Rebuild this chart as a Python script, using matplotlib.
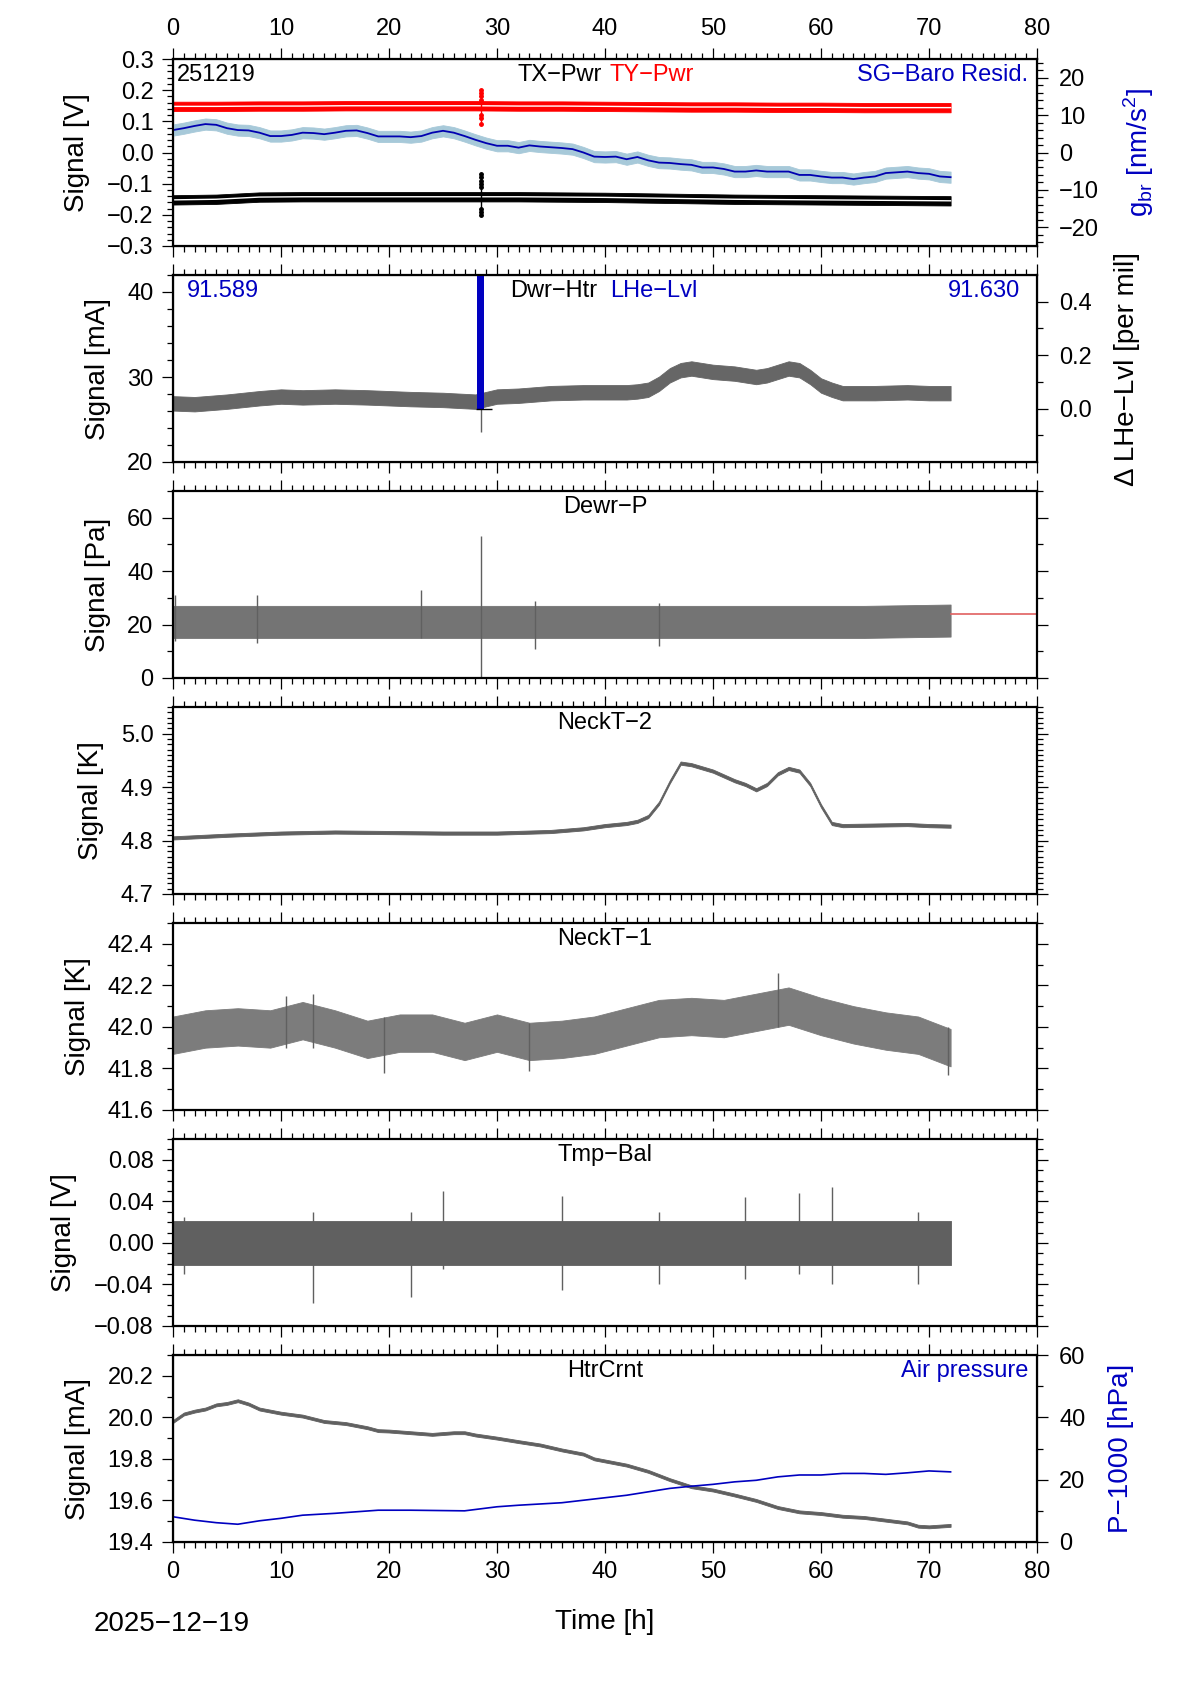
import numpy as np
import matplotlib.pyplot as plt
from matplotlib.ticker import MultipleLocator, FixedLocator, FuncFormatter

plt.rcParams['font.family'] = ['Liberation Sans', 'DejaVu Sans']
plt.rcParams['mathtext.fontset'] = 'custom'
plt.rcParams['mathtext.rm'] = 'Liberation Sans'

GRAY = '#606060'
BLUE = '#0000c0'
RED = '#ff0000'
TICK_FS = 17
LABEL_FS = 20

# ---- panel 1: TX/TY power [V] and SG-Baro residual [nm/s^2]
pwr_t = [0, 4, 8, 12, 16, 20, 24, 28, 32, 36, 40, 44, 48, 52, 56, 60, 64, 68, 72]
ty_pwr = [0.148, 0.148, 0.149, 0.149, 0.150, 0.150, 0.150, 0.150, 0.149, 0.149,
          0.148, 0.147, 0.146, 0.146, 0.145, 0.145, 0.144, 0.144, 0.144]
tx_pwr = [-0.152, -0.150, -0.143, -0.142, -0.142, -0.142, -0.142, -0.142, -0.142, -0.143,
          -0.144, -0.146, -0.148, -0.150, -0.151, -0.152, -0.153, -0.154, -0.155]
pwr_noise = 0.015
ty_spike = [0.20, 0.19, 0.18, 0.17, 0.12, 0.11, 0.09]
tx_spike = [-0.07, -0.08, -0.09, -0.10, -0.11, -0.18, -0.19, -0.20]
spike_time = 28.5

baro_t = list(range(73))
baro = [6.0, 6.5, 7.1, 7.6, 7.4, 6.5, 6.0, 5.9, 5.3, 4.4,
        4.4, 4.7, 5.3, 5.2, 4.9, 5.3, 5.8, 5.9, 5.2, 4.3,
        4.3, 4.3, 4.1, 4.4, 5.3, 5.8, 5.3, 4.4, 3.4, 2.5,
        1.8, 1.8, 1.3, 1.9, 1.6, 1.4, 1.2, 0.9, 0.0, -1.1,
        -1.2, -1.1, -1.8, -1.2, -2.1, -2.7, -2.8, -3.1, -3.3, -4.0,
        -4.0, -4.4, -5.1, -5.1, -4.8, -5.1, -5.1, -5.1, -6.0, -6.0,
        -6.4, -6.7, -6.7, -7.1, -6.7, -6.4, -5.5, -5.3, -5.1, -5.5,
        -5.7, -6.4, -6.6]
baro_noise = 1.5

# ---- panel 2: Dwr-Htr [mA] and LHe level
dwr_t = [0, 2, 5, 8, 10, 12, 15, 18, 20, 22, 25, 28, 30, 32, 35, 38, 40, 42, 43, 44,
         45, 46, 47, 48, 50, 52, 54, 55, 56, 57, 58, 59, 60, 61, 62, 65, 68, 70, 72]
dwr_htr = [26.9, 26.8, 27.1, 27.5, 27.7, 27.6, 27.7, 27.6, 27.5, 27.4,
           27.3, 27.1, 27.7, 27.8, 28.1, 28.2, 28.2, 28.2, 28.3, 28.5,
           29.2, 30.2, 30.8, 31.0, 30.6, 30.4, 30.0, 30.2, 30.6, 31.0,
           30.8, 30.0, 29.0, 28.5, 28.1, 28.1, 28.2, 28.1, 28.1]
dwr_noise = 0.85
dwr_spike_lo, dwr_spike_hi = 23.5, 27.0
lhe_t = [28.5]
lhe_lo = [0.0]
lhe_hi = [0.6]

# ---- panel 3: Dewr-P [Pa]
dewp_t = [0, 8, 16, 24, 32, 40, 48, 56, 64, 72]
dewp = [21.0, 21.0, 21.0, 21.0, 21.0, 21.0, 21.0, 21.0, 21.0, 21.5]
dewp_noise = 6.0
dewp_spk_t = [0.2, 7.8, 23.0, 28.5, 33.5, 45.0]
dewp_spk_lo = [14, 13, 15, 0, 11, 12]
dewp_spk_hi = [31, 31, 33, 53, 29, 28]
dewp_ref_t = [72, 80]
dewp_ref = [24.0, 24.0]

# ---- panel 4: NeckT-2 [K]
nt2_t = [0, 2, 5, 10, 15, 20, 25, 30, 35, 38, 40, 42, 43, 44, 45, 46, 47, 48, 50, 52,
         53, 54, 55, 56, 57, 58, 59, 60, 61, 62, 65, 68, 70, 72]
neckt2 = [4.805, 4.807, 4.810, 4.814, 4.816, 4.815, 4.814, 4.814, 4.817, 4.822,
          4.828, 4.832, 4.836, 4.845, 4.870, 4.910, 4.945, 4.942, 4.930, 4.912,
          4.905, 4.895, 4.905, 4.925, 4.935, 4.930, 4.905, 4.865, 4.832, 4.828,
          4.829, 4.830, 4.828, 4.827]
nt2_noise = 0.003

# ---- panel 5: NeckT-1 [K]
nt1_t = [0, 3, 6, 9, 12, 15, 18, 21, 24, 27, 30, 33, 36, 39, 42, 45, 48, 51, 54, 57,
         60, 63, 66, 69, 72]
neckt1 = [41.96, 41.99, 42.00, 41.99, 42.03, 41.99, 41.94, 41.97, 41.97, 41.93,
          41.97, 41.93, 41.94, 41.96, 42.00, 42.04, 42.05, 42.04, 42.07, 42.10,
          42.05, 42.01, 41.98, 41.96, 41.90]
nt1_noise = 0.09
nt1_spk_t = [10.5, 13.0, 19.5, 33.0, 56.0, 71.8]
nt1_spk_lo = [41.9, 41.9, 41.78, 41.79, 42.0, 41.77]
nt1_spk_hi = [42.15, 42.16, 42.05, 42.02, 42.26, 42.0]

# ---- panel 6: Tmp-Bal [V]
tb_t = [0, 24, 48, 72]
tmpbal = [0.0, 0.0, 0.0, 0.0]
tb_noise = 0.021
tb_spk_t = [1, 13, 22, 25, 36, 45, 53, 58, 61, 69]
tb_spk_lo = [-0.030, -0.058, -0.052, -0.025, -0.045, -0.040, -0.035, -0.030, -0.040, -0.040]
tb_spk_hi = [0.025, 0.030, 0.030, 0.050, 0.045, 0.030, 0.044, 0.048, 0.054, 0.030]

# ---- panel 7: HtrCrnt [mA] and air pressure [hPa]
hc_t = [0, 1, 2, 3, 4, 5, 6, 7, 8, 9, 10, 12, 14, 16, 18, 19, 20, 22, 24, 26, 27,
        28, 30, 32, 34, 36, 38, 39, 40, 42, 44, 46, 48, 50, 52, 54, 56, 58, 60, 62,
        64, 66, 68, 69, 70, 72]
htrcrnt = [19.980, 20.016, 20.030, 20.040, 20.060, 20.067, 20.080, 20.064, 20.040, 20.030, 20.020,
           20.006, 19.980, 19.970, 19.950, 19.936, 19.934, 19.926, 19.918, 19.926, 19.926,
           19.915, 19.900, 19.883, 19.867, 19.843, 19.823, 19.800, 19.790, 19.770, 19.740,
           19.700, 19.666, 19.650, 19.626, 19.600, 19.566, 19.545, 19.537, 19.524, 19.518,
           19.505, 19.492, 19.476, 19.473, 19.480]
hc_noise = 0.007
ap_t = [0, 2, 4, 6, 8, 10, 12, 15, 19, 22, 27, 30, 32, 36, 40, 42, 44, 46, 48, 50,
        52, 54, 56, 58, 60, 62, 64, 66, 68, 70, 72]
air_p = [8.1, 7.0, 6.2, 5.7, 6.8, 7.6, 8.6, 9.2, 10.2, 10.2,
         10.0, 11.3, 11.8, 12.6, 14.2, 15.0, 16.1, 17.2, 17.9, 18.5,
         19.3, 19.8, 20.9, 21.5, 21.5, 22.0, 22.0, 21.7, 22.2, 22.8, 22.5]


def fmt(dec):
    return FuncFormatter(lambda v, p: ('%.*f' % (dec, v)).replace('-', '\u2212')
                         if abs(v) > 1e-9 else '%.*f' % (dec, 0.0))


def style(ax, ylim, major, minor, dec, right=True):
    ax.set_xlim(0, 80)
    ax.set_ylim(*ylim)
    ax.xaxis.set_major_locator(MultipleLocator(10))
    ax.xaxis.set_minor_locator(MultipleLocator(1))
    ax.yaxis.set_major_locator(MultipleLocator(major))
    ax.yaxis.set_minor_locator(MultipleLocator(minor))
    ax.yaxis.set_major_formatter(fmt(dec))
    ax.tick_params(which='both', direction='out', top=True, bottom=True,
                   right=right, left=True, width=0.9, labelsize=TICK_FS,
                   labelbottom=False, labeltop=False)
    ax.tick_params(which='major', length=8, pad=6)
    ax.tick_params(which='minor', length=4)
    for s in ax.spines.values():
        s.set_linewidth(1.6)


def twin_style(tw, ylim, major, minor, dec):
    tw.set_ylim(*ylim)
    tw.yaxis.set_major_locator(MultipleLocator(major))
    tw.yaxis.set_minor_locator(MultipleLocator(minor))
    tw.yaxis.set_major_formatter(fmt(dec))
    tw.tick_params(which='both', direction='out', width=0.9, labelsize=TICK_FS)
    tw.tick_params(which='major', length=8, pad=8)
    tw.tick_params(which='minor', length=4)


def band(ax, t, y, hw, color=GRAY):
    y = np.asarray(y)
    ax.fill_between(t, y - hw, y + hw, color=color, lw=0.6, edgecolor=color)


def title(ax, s):
    ax.text(0.5, 0.975, s, transform=ax.transAxes, ha='center', va='top', fontsize=TICK_FS)


fig = plt.figure(figsize=(11.9, 16.84), dpi=100)
W, H = 1190, 1684
axes = []
for k in range(7):
    top = 59 + 216 * k
    axes.append(fig.add_axes([173 / W, 1 - (top + 187) / H, 864 / W, 187 / H]))
ax1, ax2, ax3, ax4, ax5, ax6, ax7 = axes

# panel 1
style(ax1, (-0.3, 0.3), 0.1, 0.02, 1, right=False)
ax1.tick_params(axis='x', labeltop=True)
band(ax1, pwr_t, ty_pwr, pwr_noise, RED)
ax1.plot(pwr_t, ty_pwr, color='white', lw=1.0)
band(ax1, pwr_t, tx_pwr, pwr_noise, 'black')
ax1.plot(pwr_t, tx_pwr, color='white', lw=1.0)
ax1.vlines(spike_time, min(ty_spike), max(ty_spike), color=RED, lw=1)
ax1.plot([spike_time] * len(ty_spike), ty_spike, 'o', color=RED, ms=2.5)
ax1.vlines(spike_time, min(tx_spike), max(tx_spike), color='black', lw=1)
ax1.plot([spike_time] * len(tx_spike), tx_spike, 'o', color='black', ms=2.5)
ax1.set_ylabel('Signal [V]', fontsize=LABEL_FS, labelpad=12)
tw1 = ax1.twinx()
twin_style(tw1, (-25, 25), 10, 2, 0)
band(tw1, baro_t, baro, baro_noise, '#a7c9d9')
tw1.plot(baro_t, baro, color='#0000b0', lw=1.3)
tw1.set_ylabel('g$_{\\mathregular{br}}$ [nm/s$^{\\mathregular{2}}$]', fontsize=LABEL_FS,
               color=BLUE, labelpad=16)
ax1.text(0.005, 0.975, '251219', transform=ax1.transAxes, ha='left', va='top', fontsize=TICK_FS)
ax1.text(0.496, 0.975, 'TX\u2212Pwr', transform=ax1.transAxes, ha='right', va='top',
         fontsize=TICK_FS)
ax1.text(0.505, 0.975, 'TY\u2212Pwr', transform=ax1.transAxes, ha='left', va='top',
         fontsize=TICK_FS, color=RED)
ax1.text(0.99, 0.975, 'SG\u2212Baro Resid.', transform=ax1.transAxes, ha='right', va='top',
         fontsize=TICK_FS, color=BLUE)

# panel 2
style(ax2, (20, 42), 10, 2, 0, right=False)
band(ax2, dwr_t, dwr_htr, dwr_noise, '#666666')
ax2.vlines(spike_time, dwr_spike_lo, dwr_spike_hi, color=GRAY, lw=1)
ax2.set_ylabel('Signal [mA]', fontsize=LABEL_FS, labelpad=12)
tw2 = ax2.twinx()
twin_style(tw2, (-0.2, 0.5), 0.2, 0.1, 1)
tw2.yaxis.set_major_locator(FixedLocator([0.0, 0.2, 0.4]))
tw2.yaxis.set_minor_locator(FixedLocator([-0.1, 0.1, 0.3]))
tw2.bar(lhe_t, np.subtract(lhe_hi, lhe_lo), bottom=lhe_lo, width=0.65, color=BLUE)
tw2.hlines(lhe_lo, 28.1, 29.5, color='black', lw=1)
tw2.set_ylabel('\u0394 LHe\u2212Lvl [per mil]', fontsize=LABEL_FS, labelpad=16)
ax2.text(0.016, 0.975, '91.589', transform=ax2.transAxes, ha='left', va='top',
         fontsize=TICK_FS, color=BLUE)
ax2.text(0.981, 0.975, '91.630', transform=ax2.transAxes, ha='right', va='top',
         fontsize=TICK_FS, color=BLUE)
ax2.text(0.491, 0.975, 'Dwr\u2212Htr', transform=ax2.transAxes, ha='right', va='top',
         fontsize=TICK_FS)
ax2.text(0.506, 0.975, 'LHe\u2212Lvl', transform=ax2.transAxes, ha='left', va='top',
         fontsize=TICK_FS, color=BLUE)

# panel 3
style(ax3, (0, 70), 20, 10, 0)
band(ax3, dewp_t, dewp, dewp_noise, '#747474')
ax3.vlines(dewp_spk_t, dewp_spk_lo, dewp_spk_hi, color=GRAY, lw=1)
ax3.plot(dewp_ref_t, dewp_ref, color='#e06060', lw=1.2)
ax3.set_ylabel('Signal [Pa]', fontsize=LABEL_FS, labelpad=12)
title(ax3, 'Dewr\u2212P')

# panel 4
style(ax4, (4.7, 5.05), 0.1, 0.01, 1)
band(ax4, nt2_t, neckt2, nt2_noise)
ax4.set_ylabel('Signal [K]', fontsize=LABEL_FS, labelpad=12)
title(ax4, 'NeckT\u22122')

# panel 5
style(ax5, (41.6, 42.5), 0.2, 0.1, 1)
band(ax5, nt1_t, neckt1, nt1_noise, '#7c7c7c')
ax5.vlines(nt1_spk_t, nt1_spk_lo, nt1_spk_hi, color=GRAY, lw=1)
ax5.set_ylabel('Signal [K]', fontsize=LABEL_FS, labelpad=12)
title(ax5, 'NeckT\u22121')

# panel 6
style(ax6, (-0.08, 0.1), 0.04, 0.01, 2)
band(ax6, tb_t, tmpbal, tb_noise)
ax6.vlines(tb_spk_t, tb_spk_lo, tb_spk_hi, color=GRAY, lw=1)
ax6.set_ylabel('Signal [V]', fontsize=LABEL_FS, labelpad=12)
title(ax6, 'Tmp\u2212Bal')

# panel 7
style(ax7, (19.4, 20.3), 0.2, 0.1, 1, right=False)
ax7.tick_params(axis='x', labelbottom=True)
band(ax7, hc_t, htrcrnt, hc_noise)
ax7.set_ylabel('Signal [mA]', fontsize=LABEL_FS, labelpad=12)
tw7 = ax7.twinx()
twin_style(tw7, (0, 60), 20, 10, 0)
tw7.plot(ap_t, air_p, color=BLUE, lw=1.2)
tw7.set_ylabel('P\u22121000 [hPa]', fontsize=LABEL_FS, color=BLUE, labelpad=16)
title(ax7, 'HtrCrnt')
ax7.text(0.99, 0.975, 'Air pressure', transform=ax7.transAxes, ha='right', va='top',
         fontsize=TICK_FS, color=BLUE)

fig.text(172 / W, 1 - 1624 / H, '2025\u221212\u221219', ha='center', va='center',
         fontsize=LABEL_FS)
fig.text(605 / W, 1 - 1622 / H, 'Time [h]', ha='center', va='center', fontsize=LABEL_FS)

fig.savefig('out.png', dpi=100)
